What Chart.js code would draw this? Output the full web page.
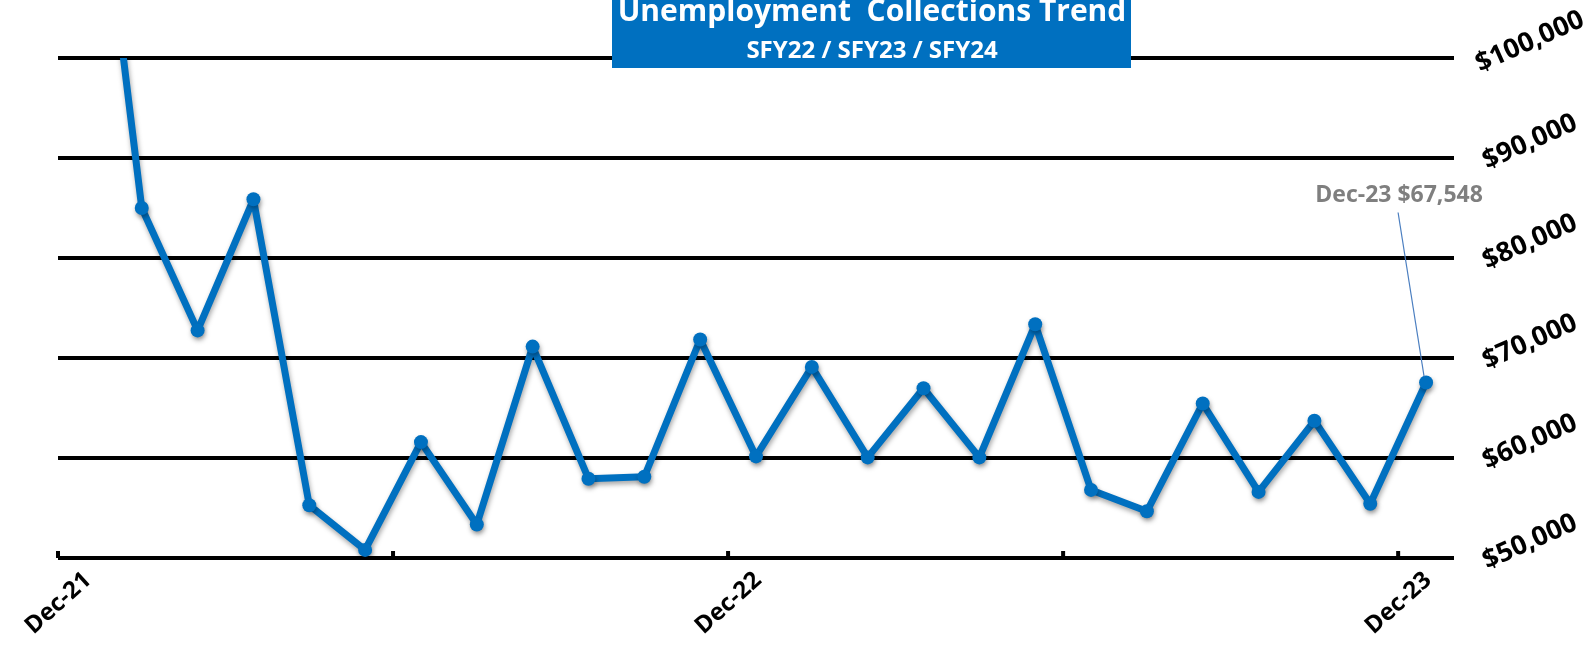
<!DOCTYPE html>
<html>
<head>
<meta charset="utf-8">
<script src="https://cdn.jsdelivr.net/npm/chart.js@4.4.1/dist/chart.umd.min.js"></script>
<style>
  html, body { margin: 0; padding: 0; background: #ffffff; }
  #wrap { width: 1595px; height: 646px; position: relative; }
</style>
</head>
<body>
<div id="wrap"><canvas id="chart"></canvas></div>
<script>
// monthly categories, Dec-21 .. Dec-23
const months = [
  "Dec-21", "Jan-22", "Feb-22", "Mar-22", "Apr-22", "May-22", "Jun-22",
  "Jul-22", "Aug-22", "Sep-22", "Oct-22", "Nov-22", "Dec-22",
  "Jan-23", "Feb-23", "Mar-23", "Apr-23", "May-23", "Jun-23",
  "Jul-23", "Aug-23", "Sep-23", "Oct-23", "Nov-23", "Dec-23"
];
// unemployment collections ($)
const collections = [
  130700, 85000, 72760, 85870, 55280, 50810, 61590,
  53350, 71140, 57930, 58130, 71850, 60160,
  69110, 60060, 66970, 60060, 73370, 56810,
  54670, 65450, 56610, 63720, 55430, 67548
];
const shownMonths = ["Dec-21", "Dec-22", "Dec-23"];
const yMin = 50000;
const yMax = 100000;
const yStep = 10000;

const titleText = "Unemployment  Collections Trend";
const subtitleText = "SFY22 / SFY23 / SFY24";
const calloutText = "Dec-23 $67,548";

const BLUE = "#0070C0";

function money(v) {
  return "$" + v.toLocaleString("en-US");
}

// shadow under the line, like the office chart
const lineShadow = {
  id: "lineShadow",
  beforeDatasetDraw(chart) {
    const ctx = chart.ctx;
    ctx.save();
    ctx.shadowColor = "rgba(0,0,0,0.35)";
    ctx.shadowBlur = 5;
    ctx.shadowOffsetX = 1;
    ctx.shadowOffsetY = 3;
  },
  afterDatasetDraw(chart) {
    chart.ctx.restore();
  }
};

// small upward tick marks, title box and callout
const extras = {
  id: "extras",
  afterDraw(chart) {
    const ctx = chart.ctx;
    const x = chart.scales.x;
    const area = chart.chartArea;
    const half = (x.getPixelForValue(1) - x.getPixelForValue(0)) / 2;

    // tick marks every 6 months, on the category boundaries
    ctx.save();
    ctx.fillStyle = "#000";
    for (let i = 0; i <= months.length - 1; i += 6) {
      const px = x.getPixelForValue(i) - half;
      ctx.fillRect(px - 2, area.bottom - 7, 4, 7);
    }
    ctx.restore();

    // title box
    ctx.save();
    ctx.fillStyle = BLUE;
    ctx.fillRect(612, 0, 519, 68);
    ctx.fillStyle = "#fff";
    ctx.textAlign = "center";
    ctx.textBaseline = "alphabetic";
    ctx.font = "bold 30px 'Open Sans'";
    ctx.fillText(titleText, 872, 21);
    ctx.font = "bold 24px 'Open Sans'";
    ctx.fillText(subtitleText, 872, 58);
    ctx.restore();

    // callout for the last point
    const last = chart.getDatasetMeta(0).data[collections.length - 1];
    ctx.save();
    ctx.strokeStyle = "#4A7EC0";
    ctx.lineWidth = 1.2;
    ctx.beginPath();
    ctx.moveTo(last.x - 28, last.y - 170);
    ctx.lineTo(last.x - 2, last.y - 6);
    ctx.stroke();
    ctx.fillStyle = "#7F7F7F";
    ctx.font = "bold 23px 'Open Sans'";
    ctx.textAlign = "center";
    ctx.textBaseline = "middle";
    ctx.fillText(calloutText, last.x - 27, last.y - 187);
    ctx.restore();
  }
};

new Chart(document.getElementById("chart"), {
  type: "line",
  data: {
    labels: months,
    datasets: [
      {
        label: "Collections",
        data: collections,
        borderColor: BLUE,
        backgroundColor: BLUE,
        borderWidth: 7,
        pointRadius: 7,
        pointHoverRadius: 7,
        pointBorderWidth: 0,
        tension: 0,
        borderJoinStyle: "round",
      },
    ],
  },
  options: {
    responsive: true,
    maintainAspectRatio: false,
    animation: false,
    devicePixelRatio: 1,
    layout: {
      padding: { top: 58, left: 58, right: 0, bottom: 0 }
    },
    plugins: {
      legend: { display: false },
      tooltip: { enabled: false },
      title: { display: false }
    },
    scales: {
      x: {
        offset: true,
        grid: { display: false, drawTicks: false },
        border: { display: false },
        ticks: {
          autoSkip: false,
          minRotation: 42,
          maxRotation: 42,
          padding: 8,
          labelOffset: 2,
          color: "#000",
          font: { family: "'Open Sans'", size: 24, weight: "bold" },
          callback: function (value, index) {
            const m = months[index];
            return shownMonths.includes(m) ? m : "";
          }
        },
        afterFit: function (scale) {
          scale.height = 88;
        }
      },
      y: {
        position: "right",
        min: yMin,
        max: yMax,
        grid: {
          color: "#000",
          lineWidth: 4,
          drawTicks: false
        },
        border: { display: false },
        ticks: {
          stepSize: yStep,
          minRotation: 24,
          padding: 18,
          labelOffset: -16,
          crossAlign: "center",
          color: "#000",
          font: { family: "'Open Sans'", size: 27, weight: "bold" },
          callback: function (v) { return money(v); }
        },
        afterFit: function (scale) {
          scale.width = 141;
        }
      }
    }
  },
  plugins: [lineShadow, extras]
});
</script>
</body>
</html>
